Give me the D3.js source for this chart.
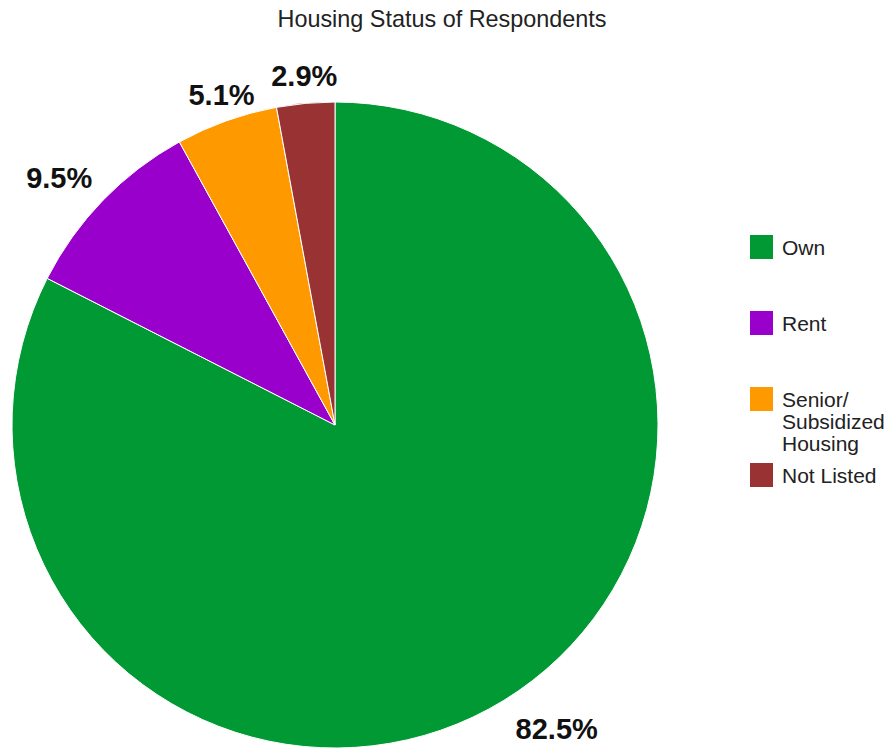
<!DOCTYPE html>
<html>
<head>
<meta charset="utf-8">
<script src="https://cdnjs.cloudflare.com/ajax/libs/d3/7.8.5/d3.min.js"></script>
<style>
  body { margin: 0; background: #fff; }
  text { font-family: Arial, 'Liberation Sans', sans-serif; }
</style>
</head>
<body>
<div class="chart"></div>
<script>

const categories = ['Own', 'Rent', 'Senior/ Subsidized Housing', 'Not Listed']
const values = [82.5, 9.5, 5.1, 2.9]
const colors = ['#009933', '#9900cc', '#ff9900', '#993333']
const title = 'Housing Status of Respondents'

const width = 894
const height = 749

const cx = 335, cy = 425, radius = 323

const data = categories.map((c, i) => ({name: c, value: values[i], color: colors[i]}))

const svg = d3.select('.chart')
.append('svg')
.attr('width', width)
.attr('height', height)

svg.append('text')
.attr('x', 442)
.attr('y', 27)
.attr('text-anchor', 'middle')
.attr('font-size', 23.4)
.attr('fill', '#222')
.text(title)

const pie = d3.pie()
.value(d => d.value)
.sort(null)

const arc = d3.arc()
.innerRadius(0)
.outerRadius(radius)

const arcs = pie(data)

const g = svg.append('g')
.attr('transform', `translate(${cx},${cy})`)

g.selectAll('path')
.data(arcs)
.enter()
.append('path')
.attr('d', arc)
.attr('fill', d => d.data.color)
.attr('stroke', '#fff')
.attr('stroke-width', 1)

// percentage labels just outside the rim
const labelFont = 29
const labelR = radius + 15

g.selectAll('.pct')
.data(arcs)
.enter()
.append('text')
.attr('class', 'pct')
.attr('font-size', labelFont)
.attr('font-weight', 'bold')
.attr('fill', '#111')
.each(function(d){
	let a = (d.startAngle + d.endAngle) / 2
	let s = Math.sin(a), c = -Math.cos(a)
	let x = s * labelR, y = c * labelR
	let anchor = 'middle'
	if(s > 0.5) { anchor = 'start'; x += 4 }
	else if(s < -0.5) anchor = 'end'
	y = c < 0 ? y - 2 : y + labelFont * 0.72 + 5
	d3.select(this)
	.attr('x', x)
	.attr('y', y)
	.attr('text-anchor', anchor)
	.text(d.data.value.toFixed(1) + '%')
})

// legend
const legendY = d3.scalePoint()
.domain(categories)
.range([247, 475])

const legend = svg.append('g')

const item = legend.selectAll('g')
.data(data)
.enter()
.append('g')
.attr('transform', d => `translate(750,${legendY(d.name)})`)

item.append('rect')
.attr('x', 0)
.attr('y', -12)
.attr('width', 23)
.attr('height', 24)
.attr('fill', d => d.color)

item.append('text')
.attr('x', 32)
.attr('y', 7.5)
.attr('font-size', 21)
.attr('fill', '#222')
.each(function(d){
	let el = d3.select(this)
	let words = d.name.split(' ')
	let line = []
	let tspan = el.append('tspan').attr('x', 32)
	words.forEach(w => {
		line.push(w)
		tspan.text(line.join(' '))
		if(tspan.node().getComputedTextLength() > 108 && line.length > 1){
			line.pop()
			tspan.text(line.join(' '))
			line = [w]
			tspan = el.append('tspan').attr('x', 32).attr('dy', 22).text(w)
		}
	})
})

</script>
</body>
</html>
